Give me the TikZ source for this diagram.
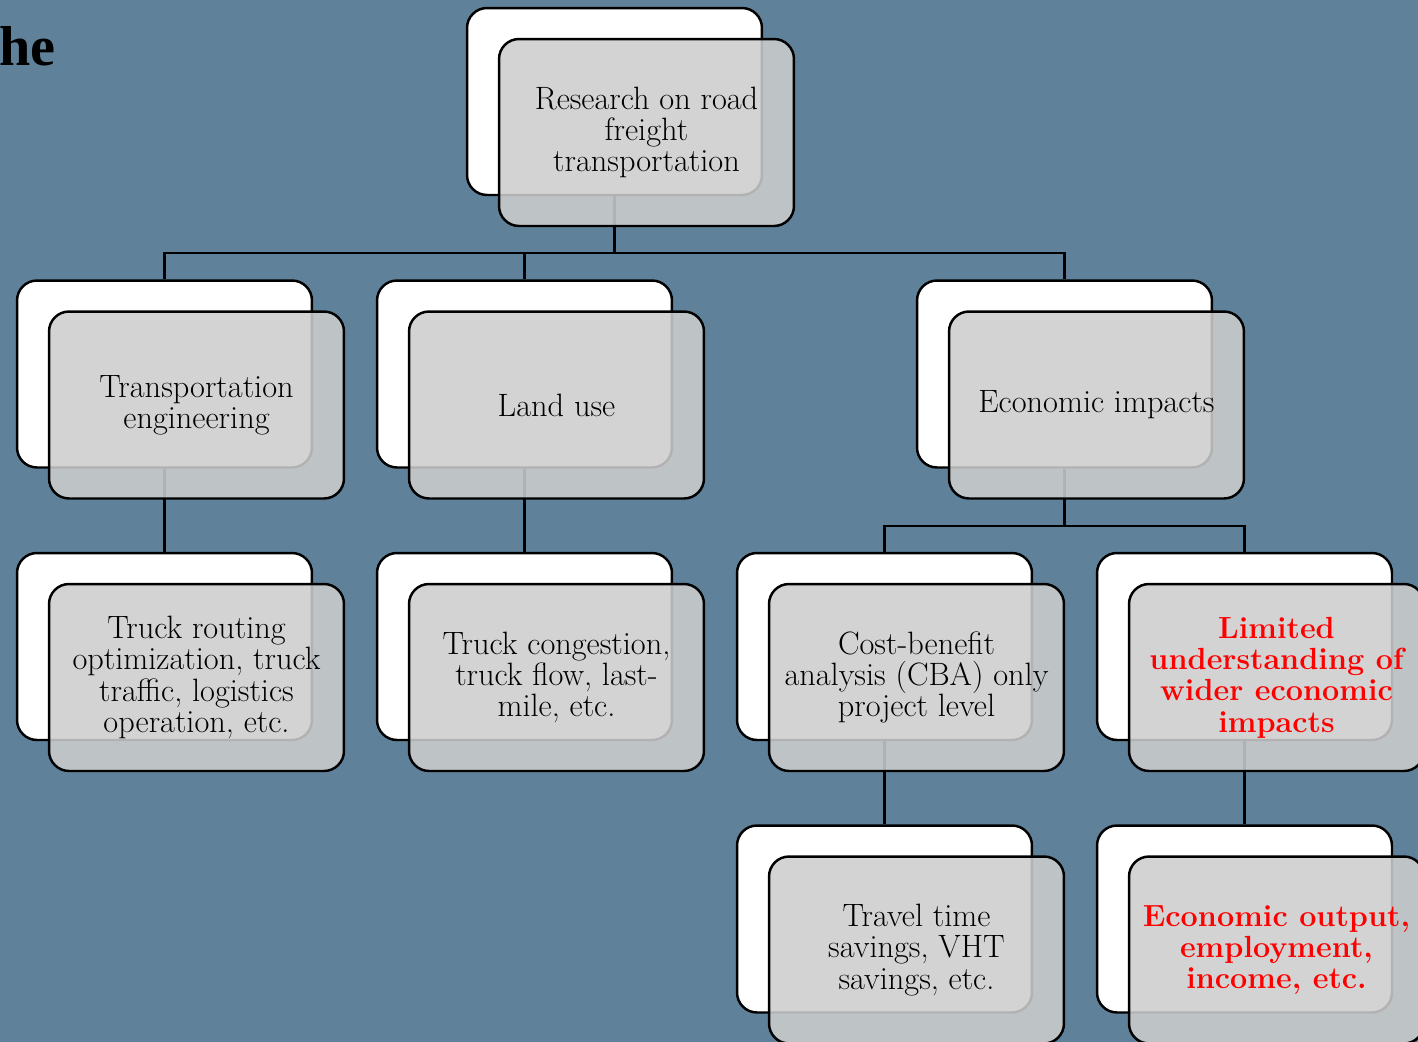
\documentclass[tikz,border=0pt]{standalone}
\usepackage{fontspec}
\newfontfamily\headfont{Liberation Serif}
\usetikzlibrary{calc}
\definecolor{slate}{RGB}{95,129,153}
\definecolor{cardgray}{RGB}{205,205,205}
\def\offx{32}
\def\offy{31}

\begin{document}
\begin{tikzpicture}[x=0.02cm, y=-0.02cm, line width=1.4pt,
  back/.style={draw, fill=white, rounded corners=0.4cm, inner sep=0pt,
    minimum width=5.9cm, minimum height=3.74cm},
  front/.style={back, fill=cardgray, fill opacity=0.87, text opacity=1,
    align=center},
  txt/.style={font=\fontsize{18.4}{17.8}\selectfont},
  redtxt/.style={text=red, font=\fontsize{17.4}{17.8}\selectfont\bfseries},
  link/.style={line width=1.2pt}]

  % ---------- canvas ----------
  \fill[slate] (0,0) rectangle (1418,1042);
  \useasboundingbox (0,0) rectangle (1418,1042);
  \node[font=\headfont\bfseries\fontsize{32}{36}\selectfont, anchor=base east,
    inner sep=0pt] (cut) at (57,65) {the};

  % ---------- back cards ----------
  \foreach \n/\x/\y in {top/614.5/101.5,
      tra/164.5/374, lan/524.5/374, eco/1064.5/374,
      rou/164.5/646.5, con/524.5/646.5, cba/884.5/646.5, lim/1244.5/646.5,
      tts/884.5/919, out/1244.5/919}
    \node[back] (\n) at (\x,\y) {};

  % ---------- links ----------
  \coordinate (j1) at (614.5,253);
  \coordinate (j2) at (1064.5,526);
  \draw[link] (top.south) -- (j1);
  \draw[link] (tra.north) |- (j1) -| (eco.north);
  \draw[link] (lan.north) -- (lan.north |- j1);
  \draw[link] (tra.south) -- (rou.north);
  \draw[link] (lan.south) -- (con.north);
  \draw[link] (eco.south) -- (j2);
  \draw[link] (cba.north) |- (j2) -| (lim.north);
  \draw[link] (cba.south) -- (tts.north);
  \draw[link] (lim.south) -- (out.north);

  % ---------- front cards ----------
  \foreach \n/\s/\t in {top/txt/{Research on road\\freight\\transportation},
      tra/txt/{Transportation\\engineering},
      lan/txt/{Land use},
      eco/txt/{Economic impacts},
      rou/txt/{Truck routing\\optimization, truck\\traffic, logistics\\operation, etc.},
      con/txt/{Truck congestion,\\truck flow, last-\\mile, etc.},
      cba/txt/{Cost-benefit\\analysis (CBA) only\\project level},
      lim/redtxt/{Limited\\understanding of\\wider economic\\impacts},
      tts/txt/{Travel time\\savings, VHT\\savings, etc.},
      out/redtxt/{Economic output,\\employment,\\income, etc.}}
    \node[front, \s] (\n-f) at ([shift={(\offx,\offy)}]\n.center) {\t};

\end{tikzpicture}
\end{document}
